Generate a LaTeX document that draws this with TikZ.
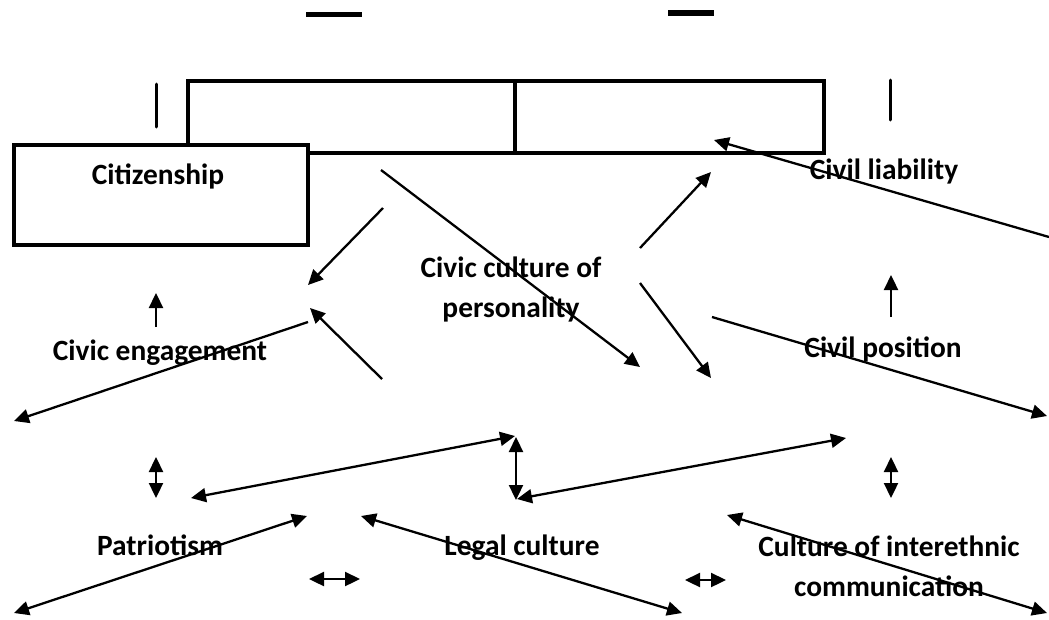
\documentclass[tikz,border=0pt]{standalone}
\usepackage{fontspec}
\setmainfont{Carlito}
\usetikzlibrary{arrows.meta}
\begin{document}
\begin{tikzpicture}[x=1pt,y=-1pt,
  lbl/.style={font=\fontsize{29.4}{40}\selectfont\bfseries, inner sep=0pt, anchor=base, align=center},
  boxline/.style={line width=3.5pt},
  conn/.style={line width=2.3pt, -{Triangle[length=15pt,width=14pt]}},
  dconn/.style={line width=2.3pt, {Triangle[length=15pt,width=14pt]}-{Triangle[length=15pt,width=14pt]}},
  tick/.style={line width=3pt, line cap=round},
  bar/.style={fill=black}]
\useasboundingbox (0,0) rectangle (1049,619);

% top bars and ticks
\fill[bar] (306,11.7) rectangle (362,17.3);
\fill[bar] (668,9.7) rectangle (714,15.7);
\draw[tick] (156,84) -- (156,127);
\draw[tick] (890,80) -- (890,120);

% boxes
\draw[boxline] (188,81) rectangle (824,153);
\draw[boxline] (515,79) -- (515,153);
\draw[boxline, fill=white] (14,145) rectangle (308,245);

% labels (base anchor = baseline of the last line)
\node[lbl] (citizenship) at (158,184) {Citizenship};
\node[lbl] (engagement) at (160,360) {Civic engagement};
\node[lbl] (culture) at (511,317) {Civic culture of\\personality};
\node[lbl] (liability) at (884,179) {Civil liability};
\node[lbl] (position) at (883,357) {Civil position};
\node[lbl] (patriotism) at (160,555) {Patriotism};
\node[lbl] (legal) at (522,555) {Legal culture};
\node[lbl] (interethnic) at (889,596) {Culture of interethnic\\communication};

% coordinates
\coordinate (a1s) at (381,170);  \coordinate (a1e) at (640,367);
\coordinate (a2s) at (383,208);  \coordinate (a2e) at (308,285);
\coordinate (a3s) at (156,327);  \coordinate (a3e) at (156,293);
\coordinate (a4s) at (308,322);  \coordinate (a4e) at (14,421);
\coordinate (a5s) at (382,379);  \coordinate (a5e) at (310,308);
\coordinate (a6s) at (1049,237); \coordinate (a6e) at (714,140);
\coordinate (a7s) at (640,248);  \coordinate (a7e) at (711,172);
\coordinate (a8s) at (640,283);  \coordinate (a8e) at (711,378);
\coordinate (a9s) at (891,317);  \coordinate (a9e) at (891,275);
\coordinate (a10s) at (712,317); \coordinate (a10e) at (1047,416);

\coordinate (d1s) at (156,457);  \coordinate (d1e) at (156,498);
\coordinate (d2s) at (191,498);  \coordinate (d2e) at (515,436);
\coordinate (d3s) at (516,437);  \coordinate (d3e) at (516,500);
\coordinate (d4s) at (14,613);   \coordinate (d4e) at (307,516);
\coordinate (d5s) at (361,516);  \coordinate (d5e) at (682,613);
\coordinate (d6s) at (309,579);  \coordinate (d6e) at (360,579);
\coordinate (d7s) at (517,499);  \coordinate (d7e) at (846,438);
\coordinate (d8s) at (891,457);  \coordinate (d8e) at (891,498);
\coordinate (d9s) at (727,515);  \coordinate (d9e) at (1047,613);
\coordinate (d10s) at (685,580); \coordinate (d10e) at (726,580);

% single arrows
\foreach \n in {a1,a2,a3,a4,a5,a6,a7,a8,a9,a10}
  \draw[conn] (\n s) -- (\n e);
% double arrows
\foreach \n in {d1,d2,d3,d4,d5,d6,d7,d8,d9,d10}
  \draw[dconn] (\n s) -- (\n e);
\end{tikzpicture}
\end{document}
